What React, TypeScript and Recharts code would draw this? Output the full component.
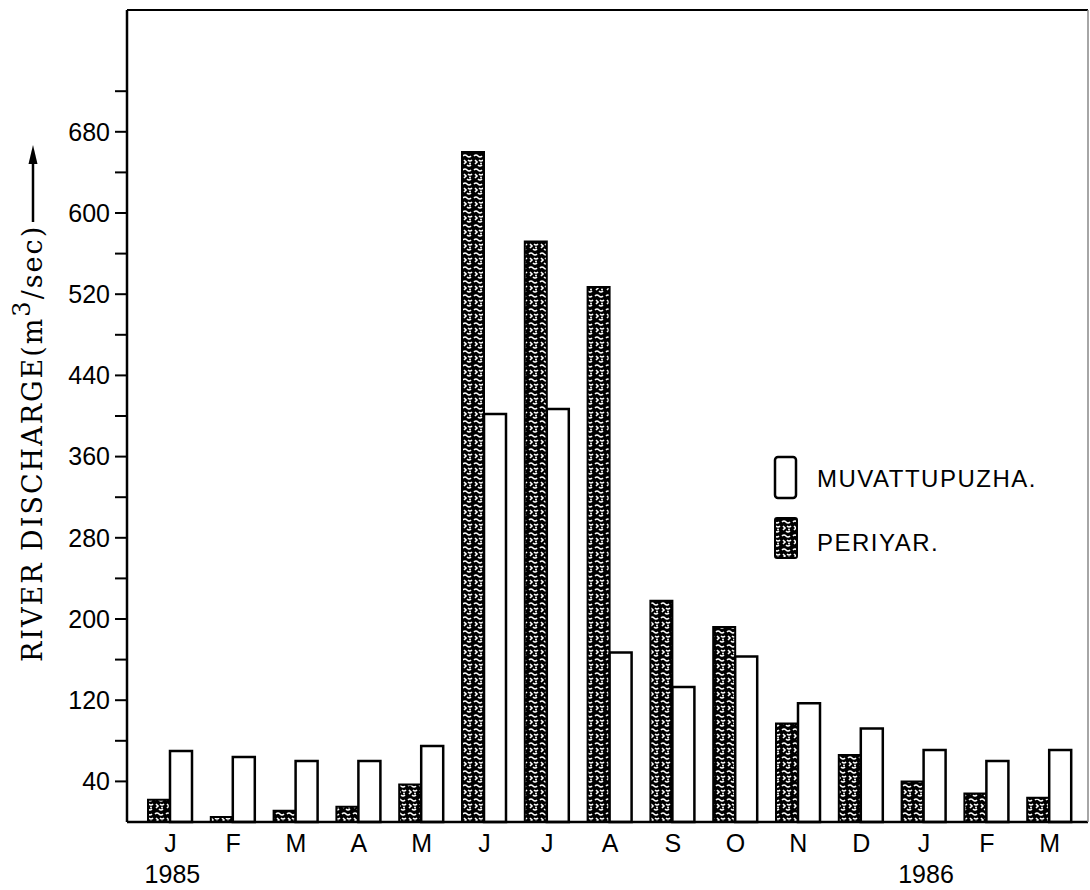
import React from "react";
import {
  BarChart,
  Bar,
  XAxis,
  YAxis,
  Legend,
  ReferenceLine,
} from "recharts";

const months = ["J", "F", "M", "A", "M", "J", "J", "A", "S", "O", "N", "D", "J", "F", "M"];
const years = ["1985", "", "", "", "", "", "", "", "", "", "", "", "1986", "", ""];
const periyar = [22, 5, 11, 15, 37, 660, 572, 527, 218, 192, 97, 66, 40, 28, 24];
const muvattupuzha = [70, 64, 60, 60, 75, 402, 407, 167, 133, 163, 117, 92, 71, 60, 71];
const yTicks = [40, 80, 120, 160, 200, 240, 280, 320, 360, 400, 440, 480, 520, 560, 600, 640, 680, 720];

const data = months.map((m, i) => ({
  month: m,
  year: years[i],
  periyar: periyar[i],
  muvattupuzha: muvattupuzha[i],
}));

const sans = "'Liberation Sans', Arial, sans-serif";

function MonthTick(props: any) {
  const { x, y, payload } = props;
  const yr = years[payload.index];
  return (
    <g>
      <text x={x} y={y} dy={30} textAnchor="middle" fontFamily={sans} fontSize={25} fill="#000">
        {payload.value}
      </text>
      {yr ? (
        <text x={x + 2} y={y} dy={61} textAnchor="middle" fontFamily={sans} fontSize={25} fill="#000">
          {yr}
        </text>
      ) : null}
    </g>
  );
}

function YTitle() {
  // rotated title plus the arrow after it
  return (
    <g>
      <text
        x={42}
        y={662}
        transform="rotate(-90, 42, 662)"
        fontFamily="'DejaVu Serif', 'Liberation Serif', serif"
        fontSize={27}
        letterSpacing={2}
        fill="#000"
      >
        RIVER DISCHARGE(m
        <tspan fontSize={24} dy={-12}>3</tspan>
        <tspan dy={12}>/sec)</tspan>
      </text>
      <line x1={33} y1={222} x2={33} y2={160} stroke="#000" strokeWidth={2.5} />
      <polygon points="33,145 28.5,164 37.5,164" fill="#000" />
    </g>
  );
}

function LegendBox() {
  // zero-height wrapper so the legend takes no room from the plot
  return (
    <div style={{ height: 0, overflow: "visible" }}>
      <svg width={300} height={120}>
        <rect x={5} y={7} width={21} height={41} rx={3} fill="#fff" stroke="#000" strokeWidth={2.5} />
        <text x={47} y={37} fontFamily={sans} fontSize={24} letterSpacing={1.5} fill="#000">
          MUVATTUPUZHA.
        </text>
        <rect x={5} y={68} width={22} height={40} rx={2} fill="url(#speckle)" stroke="#000" strokeWidth={2} />
        <text x={47} y={101} fontFamily={sans} fontSize={24} letterSpacing={1.5} fill="#000">
          PERIYAR.
        </text>
      </svg>
    </div>
  );
}

export default function App() {
  return (
    <div style={{ position: "absolute", left: 0, top: 0, background: "#fff" }}>
      <BarChart
        width={1090}
        height={890}
        data={data}
        margin={{ top: 10, right: 0, left: 0, bottom: 0 }}
        barCategoryGap={9}
        barGap={0}
      >
        <defs>
          <pattern id="speckle" width="11" height="14" patternUnits="userSpaceOnUse">
            <rect width="11" height="14" fill="#000" />
            <path d="M1 2 Q3 0 5 2 T9 2" stroke="#fff" strokeWidth="1.6" fill="none" />
            <path d="M2 6 L4 8 L2 10" stroke="#fff" strokeWidth="1.6" fill="none" />
            <path d="M6 6 Q8 8 10 6" stroke="#fff" strokeWidth="1.6" fill="none" />
            <path d="M5 11 Q7 13 9 11" stroke="#fff" strokeWidth="1.6" fill="none" />
            <circle cx="8" cy="9.5" r="1" fill="#fff" />
          </pattern>
        </defs>
        <XAxis
          dataKey="month"
          tickLine={false}
          tickSize={0}
          tickMargin={0}
          height={68}
          padding={{ left: 12, right: 7 }}
          axisLine={{ stroke: "#000", strokeWidth: 2.5 }}
          tick={<MonthTick />}
          interval={0}
        />
        <YAxis
          width={127}
          domain={[0, 800]}
          ticks={yTicks}
          interval={0}
          tickSize={12}
          tickMargin={5}
          tickLine={{ stroke: "#000", strokeWidth: 2 }}
          axisLine={{ stroke: "#000", strokeWidth: 2.5 }}
          tickFormatter={(v: number) => ((v - 40) % 80 === 0 ? String(v) : "")}
          tick={{ fontFamily: sans, fontSize: 25, fill: "#000" }}
          label={<YTitle />}
        />
        <YAxis
          yAxisId="right"
          orientation="right"
          width={2}
          domain={[0, 800]}
          tick={false}
          tickLine={false}
          axisLine={{ stroke: "#888", strokeWidth: 1.5 }}
        />
        <ReferenceLine y={800} stroke="#000" strokeWidth={2} ifOverflow="extendDomain" />
        <Legend
          content={<LegendBox />}
          wrapperStyle={{ position: "absolute", left: 770, top: 450, width: 320, height: 0 }}
        />
        <Bar
          dataKey="periyar"
          name="PERIYAR."
          fill="url(#speckle)"
          stroke="#000"
          strokeWidth={2}
          isAnimationActive={false}
        />
        <Bar
          dataKey="muvattupuzha"
          name="MUVATTUPUZHA."
          fill="#fff"
          stroke="#000"
          strokeWidth={2.5}
          isAnimationActive={false}
        />
      </BarChart>
    </div>
  );
}
